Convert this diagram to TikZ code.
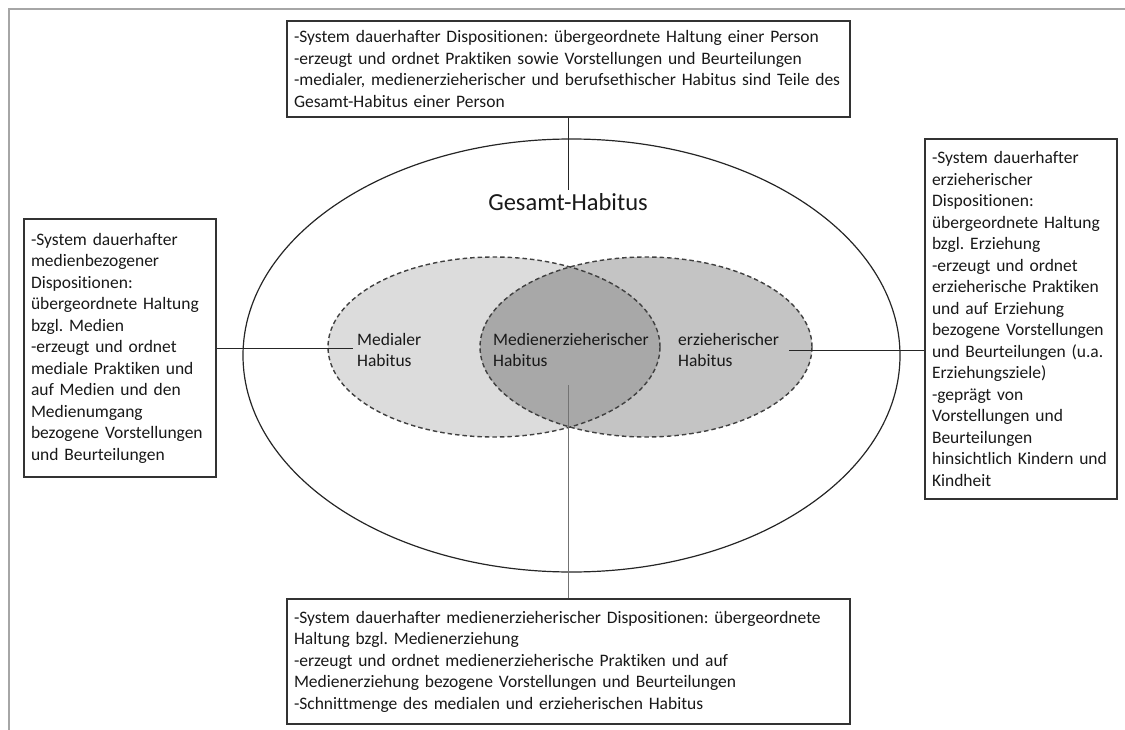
\documentclass[tikz,border=0pt]{standalone}
\usepackage{fontspec}
\setmainfont{Carlito}[Ligatures=NoCommon]
\frenchspacing
\definecolor{medfill}{HTML}{DCDCDC}
\definecolor{erzfill}{HTML}{C4C4C4}
\definecolor{lensfill}{HTML}{A8A8A8}
\tikzset{
    infobox/.style={draw=black!80, line width=1.1pt, fill=white, align=left,
        inner xsep=7pt, inner ysep=4pt, text=black!90,
        font=\fontsize{17.5}{21.5}\selectfont},
    habitus/.style={draw=black!75, line width=1.4pt, dash pattern=on 4.5pt off 3pt},
    lbl/.style={align=left, inner sep=4pt, text=black!90,
        font=\fontsize{17.5}{21.5}\selectfont},
}

\begin{document}
\begin{tikzpicture}[x=1pt, y=-1pt]
    \useasboundingbox (0,0) rectangle (1125,730);
    \draw[black!35, line width=2pt] (9,730) -- (9,9) -- (1125,9);

    % Gesamt-Habitus und die beiden Teil-Habitus
    \draw[black!85, line width=1.2pt] (571.5,355.5) ellipse [x radius=328.5pt, y radius=216.5pt];
    \fill[medfill] (494,347) ellipse [x radius=166pt, y radius=90pt];
    \fill[erzfill] (646,347) ellipse [x radius=166pt, y radius=90pt];
    \begin{scope}
        \clip (494,347) ellipse [x radius=166pt, y radius=90pt];
        \fill[lensfill] (646,347) ellipse [x radius=166pt, y radius=90pt];
    \end{scope}
    \draw[habitus] (494,347) ellipse [x radius=166pt, y radius=90pt];
    \draw[habitus] (646,347) ellipse [x radius=166pt, y radius=90pt];

    \node[text=black!90, font=\fontsize{24.5}{28}\selectfont] (gesamt) at (568,202) {Gesamt-Habitus};
    \node[lbl, anchor=west] (medial) at (353,350) {Medialer\\Habitus};
    \node[lbl, anchor=west] (medienerz) at (489,350) {Medienerzieherischer\\Habitus};
    \node[lbl, anchor=west, inner xsep=10pt] (erz) at (668,350) {erzieherischer\\Habitus};
    \coordinate (lensbot) at (568.5,385);

    % Beschreibungen
    \node[infobox, text width=549pt, minimum height=96pt] (boxtop) at (568.5,69)
        {-System dauerhafter Dispositionen: übergeordnete Haltung einer Person\\
         -erzeugt und ordnet Praktiken sowie Vorstellungen und Beurteilungen\\
         -medialer, medienerzieherischer und berufsethischer Habitus sind Teile des\\
         Gesamt-Habitus einer Person};
    \node[infobox, text width=178pt, minimum height=258pt] (boxleft) at (120,348)
        {-System dauerhafter\\ medienbezogener\\ Dispositionen:\\ übergeordnete Haltung\\
         bzgl. Medien\\ -erzeugt und ordnet\\ mediale Praktiken und\\ auf Medien und den\\
         Medienumgang\\ bezogene Vorstellungen\\ und Beurteilungen};
    \node[infobox, text width=178pt, minimum height=360pt] (boxright) at (1021,319)
        {-System dauerhafter\\ erzieherischer\\ Dispositionen:\\ übergeordnete Haltung\\
         bzgl. Erziehung\\ -erzeugt und ordnet\\ erzieherische Praktiken\\ und auf Erziehung\\
         bezogene Vorstellungen\\ und Beurteilungen (u.a.\\ Erziehungsziele)\\
         -geprägt von\\ Vorstellungen und\\ Beurteilungen\\ hinsichtlich Kindern und\\ Kindheit};
    \node[infobox, text width=549pt, minimum height=125pt] (boxbottom) at (568.5,661.5)
        {-System dauerhafter medienerzieherischer Dispositionen: übergeordnete\\
         Haltung bzgl. Medienerziehung\\
         -erzeugt und ordnet medienerzieherische Praktiken und auf\\
         Medienerziehung bezogene Vorstellungen und Beurteilungen\\
         -Schnittmenge des medialen und erzieherischen Habitus};

    \draw[black!85, line width=1pt] (boxtop.south) -- (boxtop.south |- gesamt.north);
    \draw[black!85, line width=1pt] (boxleft.east) -- (boxleft.east -| medial.west);
    \draw[black!85, line width=1pt] (erz.east) -- (erz.east -| boxright.west);
    \draw[black!55, line width=1pt] (boxbottom.north) -- (lensbot);
\end{tikzpicture}
\end{document}
